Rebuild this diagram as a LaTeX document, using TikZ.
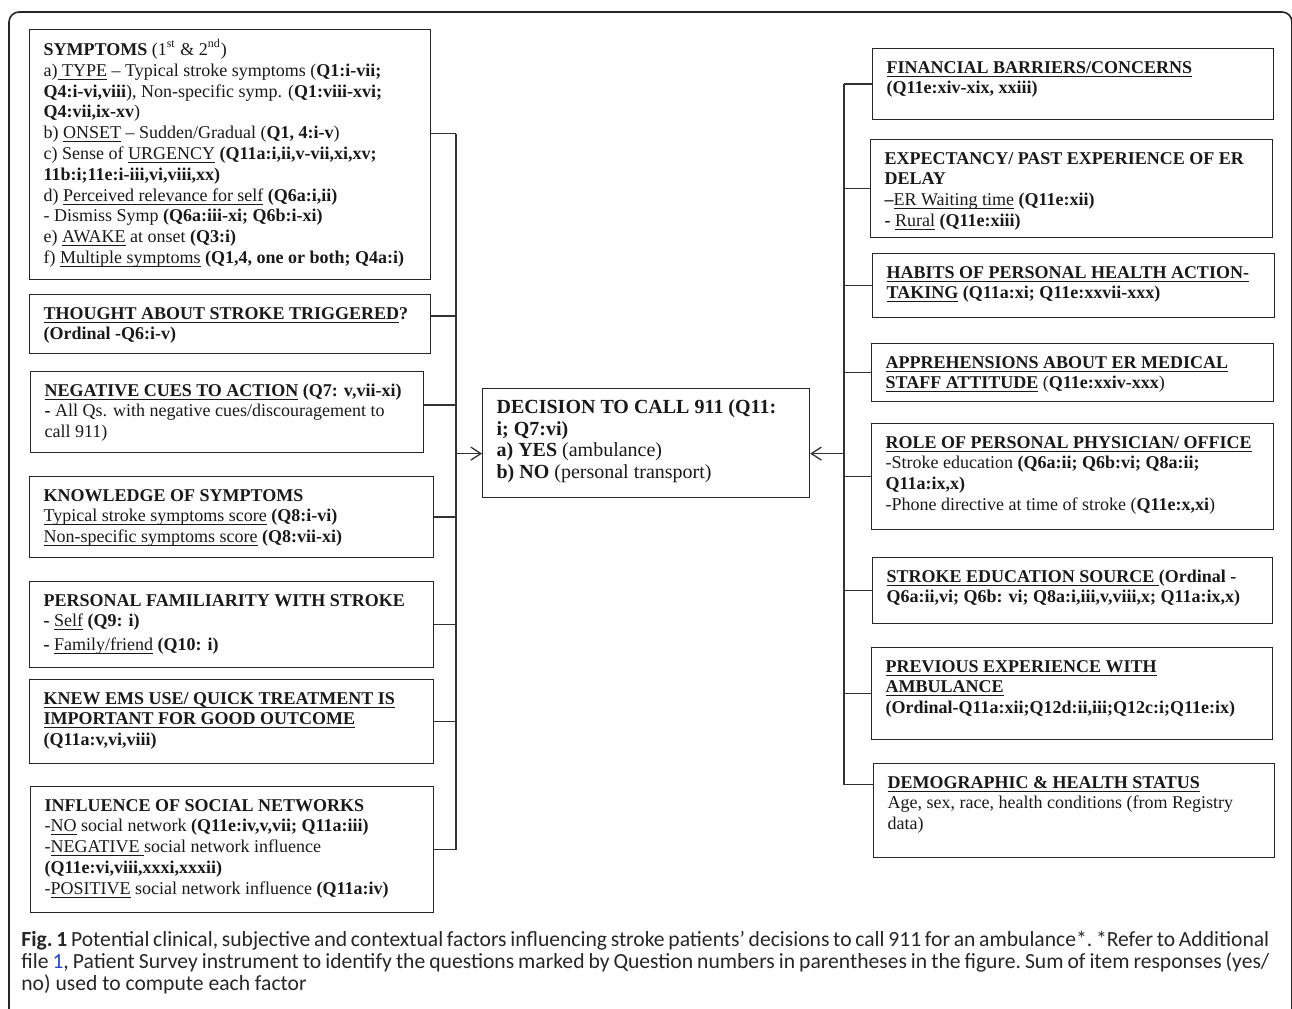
\documentclass[tikz,border=0pt]{standalone}
\usepackage{fontspec}
\setmainfont{Liberation Serif}
\newfontfamily\capfont{Carlito}
\usetikzlibrary{arrows.meta,calc}
\definecolor{capblue}{RGB}{40,70,210}
\newcommand{\fbx}[3]{\begin{minipage}[t][#2][t]{#1}\raggedright\strut#3\end{minipage}}
\newcommand{\ulin}[1]{\underline{\smash{#1}}}
\tikzset{fac/.style={draw=black!85,line width=.6pt,anchor=north west,inner xsep=7pt,inner ysep=5pt,font=\fontsize{9}{10.4}\selectfont,text=black!90},
wire/.style={draw=black!80,line width=.65pt},into/.style={wire,-{Straight Barb[length=5pt,width=6.5pt]}}}

\begin{document}
\begin{tikzpicture}[x=.5pt,y=-.5pt]
\useasboundingbox(0,0)rectangle(1292,1008);\clip(0,0)rectangle(1292,1008);
\draw[line width=.8pt,black!85,rounded corners=5pt](9,1030)--(9,12)--(1292,12)--(1292,1030);
% left side factors
\node[fac](symp)at(29,29){\fbx{186.5pt}{115pt}{\textbf{SYMPTOMS} (1\textsuperscript{st} \& 2\textsuperscript{nd})\\
a)\ulin{ TYPE} -- Typical stroke symptoms (\textbf{Q1:i-vii;}\\
\textbf{Q4:i-vi,viii}), Non-specific symp. (\textbf{Q1:viii-xvi;}\\
\textbf{Q4:vii,ix-xv})\\
b) \ulin{ONSET} -- Sudden/Gradual (\textbf{Q1, 4:i-v})\\
c) Sense of \ulin{URGENCY} \textbf{(Q11a:i,ii,v-vii,xi,xv;}\\
\textbf{11b:i;11e:i-iii,vi,viii,xx)}\\
d) \ulin{Perceived relevance for self} \textbf{(Q6a:i,ii)}\\
- Dismiss Symp \textbf{(Q6a:iii-xi; Q6b:i-xi)}\\
e) \ulin{AWAKE} at onset \textbf{(Q3:i)}\\
f) \ulin{Multiple symptoms} \textbf{(Q1,4, one or both; Q4a:i)}}};
\node[fac](thought)at(29,294){\fbx{186.5pt}{19.5pt}{\textbf{\ulin{THOUGHT ABOUT STROKE TRIGGERED}?}\\
\textbf{(Ordinal -Q6:i-v)}}};
\node[fac](negcue)at(30,371){\fbx{182.5pt}{30.5pt}{\textbf{\ulin{NEGATIVE CUES TO ACTION} (Q7: v,vii-xi)}\\
\textbf{-} All Qs. with negative cues/discouragement to\\
call 911)}};
\node[fac](know)at(29,476){\fbx{188pt}{30.5pt}{\textbf{KNOWLEDGE OF SYMPTOMS}\\
\ulin{Typical stroke symptoms score} \textbf{(Q8:i-vi)}\\
\ulin{Non-specific symptoms score} \textbf{(Q8:vii-xi)}}};
\node[fac](famil)at(29,581){\fbx{188pt}{33pt}{\textbf{PERSONAL FAMILIARITY WITH STROKE}\\
\textbf{-} \ulin{Self} \textbf{(Q9: i)}\\[1.5pt]
\textbf{-} \ulin{Family/friend} \textbf{(Q10: i)}}};
\node[fac](ems)at(29,679){\fbx{188pt}{32pt}{\textbf{\ulin{KNEW EMS USE/ QUICK TREATMENT IS}}\\
\textbf{\ulin{IMPORTANT FOR GOOD OUTCOME}}\\
\textbf{(Q11a:v,vi,viii)}}};
\node[fac](social)at(30,786){\fbx{187.5pt}{53pt}{\textbf{INFLUENCE OF SOCIAL NETWORKS}\\
-\ulin{NO} social network \textbf{(Q11e:iv,v,vii; Q11a:iii)}\\
-\ulin{NEGATIVE }social network influence\\
\textbf{(Q11e:vi,viii,xxxi,xxxii)}\\
-\ulin{POSITIVE} social network influence \textbf{(Q11a:iv)}}};
% outcome
\node[fac,font=\fontsize{10}{10.8}\selectfont](dec)at(482,388){\fbx{149.5pt}{44.5pt}{\textbf{DECISION TO CALL 911 (Q11:}\\
\textbf{i; Q7:vi)}\\
\textbf{a) YES} (ambulance)\\
\textbf{b) NO} (personal transport)}};
% right side factors
\node[fac](fin)at(872,48){\fbx{186.5pt}{25.5pt}{\textbf{\ulin{FINANCIAL BARRIERS/CONCERNS}}\\
\textbf{(Q11e:xiv-xix, xxiii)}}};
\node[fac](expect)at(870,139){\fbx{187pt}{39pt}{\textbf{EXPECTANCY/ PAST EXPERIENCE OF ER}\\
\textbf{DELAY}\\
\textbf{--}\ulin{ER Waiting time} \textbf{(Q11e:xii)}\\
\textbf{-} \ulin{Rural} \textbf{(Q11e:xiii)}}};
\node[fac](habit)at(872,253){\fbx{187pt}{22pt}{\textbf{\ulin{HABITS OF PERSONAL HEALTH ACTION-}}\\
\textbf{\ulin{TAKING} (Q11a:xi; Q11e:xxvii-xxx)}}};
\node[fac](appr)at(871,343){\fbx{187pt}{19pt}{\textbf{\ulin{APPREHENSIONS ABOUT ER MEDICAL}}\\
\textbf{\ulin{STAFF ATTITUDE}} (\textbf{Q11e:xxiv-xxx})}};
\node[fac](role)at(871,423){\fbx{187pt}{43pt}{\textbf{\ulin{ROLE OF PERSONAL PHYSICIAN/ OFFICE}}\\
-Stroke education \textbf{(Q6a:ii; Q6b:vi; Q8a:ii;}\\
\textbf{Q11a:ix,x)}\\
-Phone directive at time of stroke (\textbf{Q11e:x,xi})}};
\node[fac](educ)at(872,557){\fbx{186pt}{23pt}{\textbf{\ulin{STROKE EDUCATION SOURCE }(Ordinal -}\\
\textbf{Q6a:ii,vi; Q6b: vi; Q8a:i,iii,v,viii,x; Q11a:ix,x)}}};
\node[fac](prev)at(871,647){\fbx{186.5pt}{36pt}{\textbf{\ulin{PREVIOUS EXPERIENCE WITH}}\\
\textbf{\ulin{AMBULANCE}}\\
\textbf{(Ordinal-Q11a:xii;Q12d:ii,iii;Q12c:i;Q11e:ix)}}};
\node[fac](demo)at(873,763){\fbx{186.5pt}{37pt}{\textbf{\ulin{DEMOGRAPHIC \& HEALTH STATUS}}\\
Age, sex, race, health conditions (from Registry\\
data)}};
% connectors
\coordinate(lbus)at(456,0);\coordinate(rbus)at(844,0);
\coordinate(sympout)at([yshift=10.5pt]symp.east);\coordinate(demoin)at([yshift=13pt]demo.west);
\coordinate(thoughtout)at([yshift=4pt]thought.east);\coordinate(negcueout)at([yshift=3.5pt]negcue.east);
\coordinate(din)at([yshift=-5.25pt]dec.west);\coordinate(dout)at([yshift=-5.25pt]dec.east);
\foreach\b in{sympout,thoughtout,negcueout,know.east,famil.east,ems.east,social.east}\draw[wire](\b)--(\b-|lbus);
\draw[wire](sympout-|lbus)--(social.east-|lbus);
\draw[wire](demoin)--(demoin-|rbus);
\foreach\b in{fin,expect,habit,appr,role,educ,prev}\draw[wire](\b.west)--(\b.west-|rbus);
\draw[wire](fin.west-|rbus)--(demoin-|rbus);
\draw[into](din-|lbus)--(din);\draw[into](dout-|rbus)--(dout);
% caption
\node[anchor=base west,inner sep=0pt,font=\capfont\fontsize{10.8}{11}\selectfont\frenchspacing,text=black!85](cap)at(21,946){\parbox[t]{624pt}{\makebox[624pt][s]{\textbf{Fig. 1} Potential clinical, subjective and contextual factors influencing stroke patients’ decisions to call 911 for an ambulance*. *Refer to Additional}\\
\makebox[624pt][s]{file {\color{capblue}1}, Patient Survey instrument to identify the questions marked by Question numbers in parentheses in the figure. Sum of item responses (yes/}\\
no) used to compute each factor}};
\end{tikzpicture}
\end{document}
